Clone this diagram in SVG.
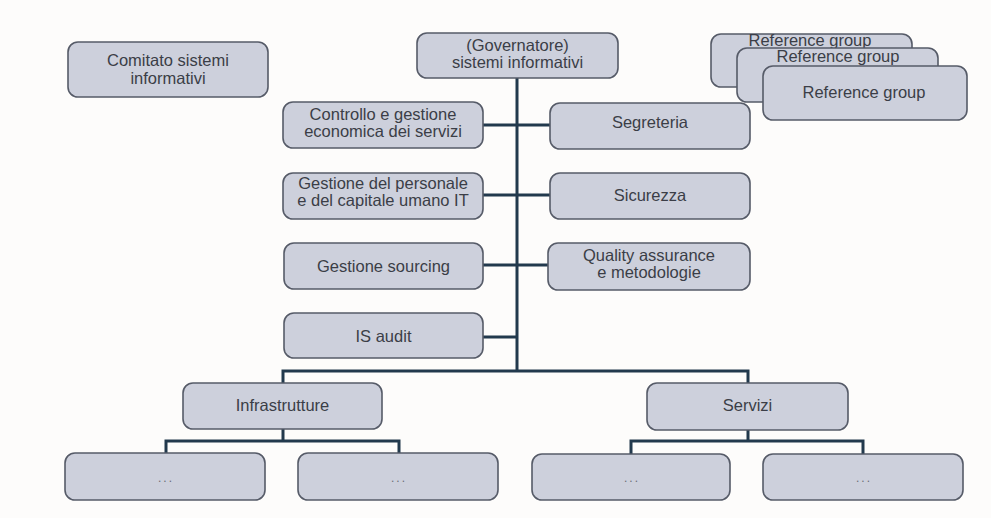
<svg xmlns="http://www.w3.org/2000/svg" width="991" height="518" viewBox="0 0 991 518">
<style>
.bx{fill:#cdd0dc;stroke:#565b68;stroke-width:1.6}
.t{font-family:"Liberation Sans",Arial,sans-serif;font-size:16.5px;fill:#3b3e47;text-anchor:middle}
.d{font-family:"Liberation Sans",Arial,sans-serif;font-size:12px;fill:#6a6d76;text-anchor:middle;letter-spacing:2px}
.c{fill:none;stroke:#22394d;stroke-width:3;stroke-linejoin:miter}
</style>
<rect width="991" height="518" fill="#fdfcfb"/>
<g id="connectors">
<path class="c" d="M517 78V371"/>
<path class="c" d="M483 125H550M483 195H550M483 265H550M483 337H517"/>
<path class="c" d="M283 383V371H748V383"/>
<path class="c" d="M283 429V441M166 453V441H399V453"/>
<path class="c" d="M748 430V441M631 454V441H863V454"/>
</g>
<g id="comitato"><rect class="bx" x="68" y="42" width="200" height="55" rx="10"/><text class="t" x="168" y="66">Comitato sistemi</text><text class="t" x="168" y="84">informativi</text></g>
<g id="governatore"><rect class="bx" x="417" y="33" width="201" height="45" rx="10"/><text class="t" x="517.5" y="50.5">(Governatore)</text><text class="t" x="517.5" y="68">sistemi informativi</text></g>
<g id="ref1"><rect class="bx" x="711" y="34" width="201" height="53" rx="10"/><text class="t" x="810" y="46">Reference group</text></g>
<g id="ref2"><rect class="bx" x="737" y="48" width="201" height="54" rx="10"/><text class="t" x="838" y="62">Reference group</text></g>
<g id="ref3"><rect class="bx" x="763" y="66" width="204" height="54" rx="10"/><text class="t" x="864" y="98">Reference group</text></g>
<g id="controllo"><rect class="bx" x="283" y="102" width="200" height="46" rx="10"/><text class="t" x="383" y="120">Controllo e gestione</text><text class="t" x="383" y="137">economica dei servizi</text></g>
<g id="segreteria"><rect class="bx" x="550" y="103" width="200" height="46" rx="10"/><text class="t" x="650" y="128">Segreteria</text></g>
<g id="personale"><rect class="bx" x="283" y="173" width="200" height="46" rx="10"/><text class="t" x="383" y="188.5">Gestione del personale</text><text class="t" x="383" y="205.5">e del capitale umano IT</text></g>
<g id="sicurezza"><rect class="bx" x="550" y="173" width="200" height="46" rx="10"/><text class="t" x="650" y="201">Sicurezza</text></g>
<g id="sourcing"><rect class="bx" x="284" y="243" width="199" height="46" rx="10"/><text class="t" x="383.5" y="272">Gestione sourcing</text></g>
<g id="quality"><rect class="bx" x="548" y="243" width="202" height="47" rx="10"/><text class="t" x="649" y="260.5">Quality assurance</text><text class="t" x="649" y="277.5">e metodologie</text></g>
<g id="isaudit"><rect class="bx" x="284" y="313" width="199" height="45" rx="10"/><text class="t" x="383.5" y="342">IS audit</text></g>
<g id="infrastrutture"><rect class="bx" x="183" y="383" width="199" height="46" rx="10"/><text class="t" x="282.5" y="411">Infrastrutture</text></g>
<g id="servizi"><rect class="bx" x="647" y="383" width="201" height="47" rx="10"/><text class="t" x="747.5" y="411">Servizi</text></g>
<g id="sub1"><rect class="bx" x="65" y="453" width="200" height="47" rx="10"/><text class="d" x="166" y="482">...</text></g>
<g id="sub2"><rect class="bx" x="298" y="453" width="200" height="47" rx="10"/><text class="d" x="399" y="482">...</text></g>
<g id="sub3"><rect class="bx" x="532" y="454" width="198" height="46" rx="10"/><text class="d" x="632" y="482">...</text></g>
<g id="sub4"><rect class="bx" x="763" y="454" width="200" height="46" rx="10"/><text class="d" x="864" y="482">...</text></g>
</svg>
